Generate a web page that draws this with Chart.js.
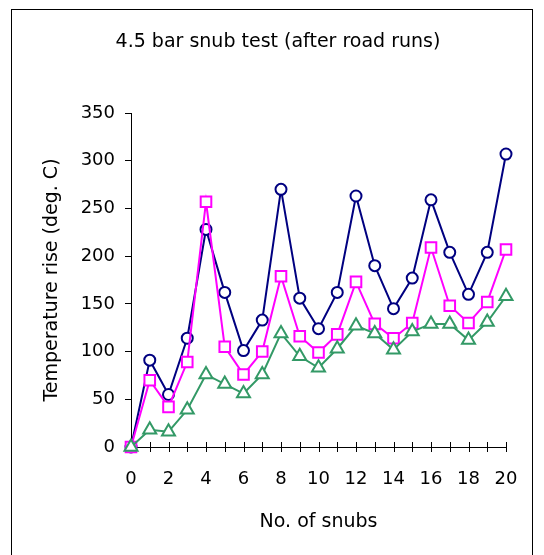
<!DOCTYPE html>
<html>
<head>
<meta charset="utf-8">
<script src="https://cdn.jsdelivr.net/npm/chart.js@4/dist/chart.umd.min.js"></script>
<style>
    body { margin: 0; background: #fff; }
</style>
</head>
<body>
<canvas id="myChart" width="544" height="555"></canvas>
<script>
const snubs = [0, 1, 2, 3, 4, 5, 6, 7, 8, 9, 10, 11, 12, 13, 14, 15, 16, 17, 18, 19, 20];
const run1 = [0, 91, 55, 114, 228, 162, 101, 133, 270, 156, 124, 162, 263, 190, 145, 177, 259, 204, 160, 204, 307];
const run2 = [0, 70, 42, 89, 257, 105, 76, 100, 179, 116, 99, 118, 173, 129, 114, 130, 209, 148, 130, 152, 207];
const run3 = [0, 18, 16, 39, 76, 66, 56, 76, 119, 95, 83, 103, 127, 119, 102, 121, 129, 129, 112, 131, 158];
const yTicks = [0, 50, 100, 150, 200, 250, 300, 350];

const chartTitle = '4.5 bar snub test (after road runs)';
const font = 'DejaVu Sans';

const toPoints = (vals) => snubs.map((s, i) => ({ x: s, y: vals[i] }));

// outer box + chart title, Excel style
const frameTitle = {
    id: 'frameTitle',
    afterDraw(chart) {
        const ctx = chart.ctx;
        ctx.save();
        ctx.strokeStyle = '#000';
        ctx.lineWidth = 1;
        ctx.strokeRect(11.5, 9.5, 521, 560);
        ctx.fillStyle = '#000';
        ctx.font = '19px "' + font + '"';
        ctx.textAlign = 'center';
        ctx.textBaseline = 'alphabetic';
        ctx.fillText(chartTitle, 278, 47);
        ctx.restore();
    }
};

// x axis ticks cross the axis line
const crossTicks = {
    id: 'crossTicks',
    beforeDatasetsDraw(chart) {
        const xs = chart.scales.x;
        const yPix = chart.scales.y.getPixelForValue(0);
        const ctx = chart.ctx;
        ctx.save();
        ctx.strokeStyle = '#000';
        ctx.lineWidth = 1;
        ctx.beginPath();
        xs.ticks.forEach(t => {
            const px = Math.round(xs.getPixelForValue(t.value)) + 0.5;
            ctx.moveTo(px, yPix - 5);
            ctx.lineTo(px, yPix + 5);
        });
        ctx.stroke();
        ctx.restore();
    }
};

const series = (vals, color, style, radius, order) => ({
    data: toPoints(vals),
    borderColor: color,
    borderWidth: 2,
    pointStyle: style,
    pointRadius: radius,
    pointHoverRadius: radius,
    pointBorderWidth: 2,
    pointBackgroundColor: '#fff',
    pointBorderColor: color,
    tension: 0,
    clip: false,
    order: order
});

new Chart("myChart", {
    type: 'line',
    data: {
        datasets: [
            series(run1, '#000080', 'circle', 5.5, 3),
            series(run2, '#FF00FF', 'rect', 7.5, 2),
            series(run3, '#339966', 'triangle', 7.5, 1)
        ]
    },
    options: {
        responsive: false,
        animation: false,
        layout: { padding: { top: 113, right: 38, left: 0, bottom: 0 } },
        plugins: {
            legend: { display: false },
            title: { display: false },
            tooltip: { enabled: false }
        },
        scales: {
            x: {
                type: 'linear',
                min: 0,
                max: 20,
                afterFit: (s) => { s.height = 108; },
                grid: { display: false, drawTicks: false },
                border: { display: true, color: '#000', width: 1 },
                ticks: {
                    stepSize: 1,
                    autoSkip: false,
                    maxRotation: 0,
                    padding: 22,
                    color: '#000',
                    font: { family: font, size: 18 },
                    callback: (v) => v % 2 === 0 ? v : ''
                },
                title: {
                    display: true,
                    text: 'No. of snubs',
                    color: '#000',
                    font: { family: font, size: 19 },
                    padding: { top: 0, bottom: 22 }
                }
            },
            y: {
                min: 0,
                max: 350,
                afterFit: (s) => { s.width = 131; },
                afterBuildTicks: (s) => { s.ticks = yTicks.map(v => ({ value: v })); },
                grid: { drawOnChartArea: false, drawTicks: true, tickLength: 6, color: '#000' },
                border: { display: true, color: '#000', width: 1 },
                ticks: {
                    padding: 10,
                    color: '#000',
                    font: { family: font, size: 18 }
                },
                title: {
                    display: true,
                    text: 'Temperature rise (deg. C)',
                    color: '#000',
                    font: { family: font, size: 19 },
                    padding: { top: 41, bottom: 0 }
                }
            }
        }
    },
    plugins: [frameTitle, crossTicks]
});
</script>
</body>
</html>
